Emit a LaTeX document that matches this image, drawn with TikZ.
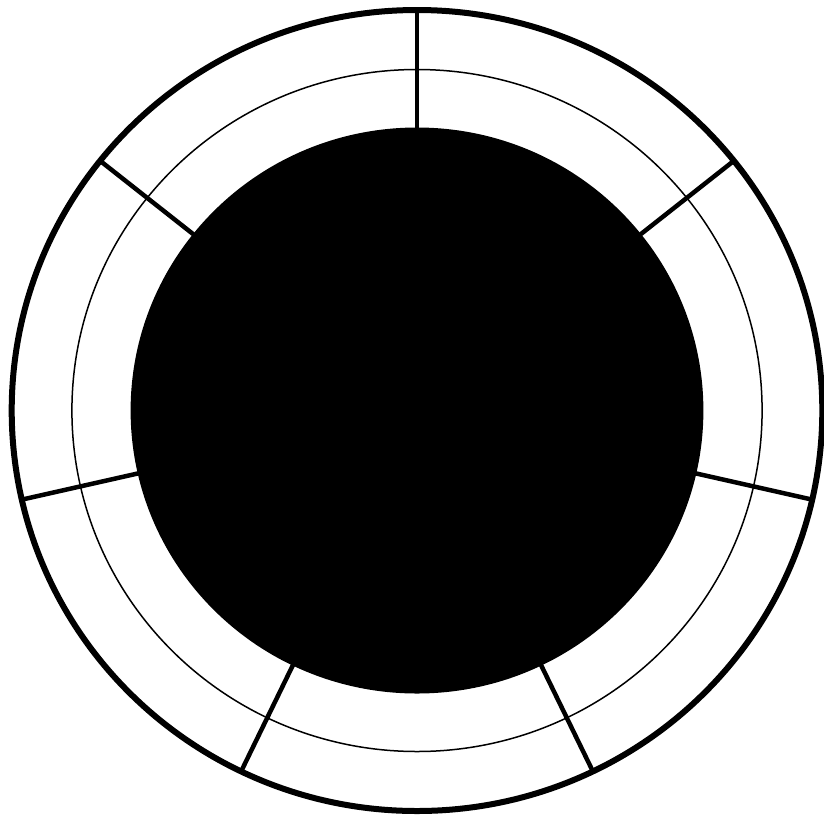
\documentclass[tikz,border=0pt]{standalone}
\begin{document}
\begin{tikzpicture}[x=1pt,y=-1pt,
  outerring/.style={line width=6pt},
  innerring/.style={line width=1.5pt},
  spoke/.style={line width=4.5pt}]
\useasboundingbox (0,0) rectangle (824,820);
\begin{scope}[shift={(417,410.5)},xscale=1.012]
  \fill (0,0) circle[radius=283];
  \draw[innerring] (0,0) circle[radius=341];
  \draw[outerring] (0,0) circle[radius=400.5];
  \foreach \k in {0,...,6}{
    \draw[spoke] ({90-\k*360/7}:-282) -- ({90-\k*360/7}:-401);
  }
\end{scope}
\end{tikzpicture}
\end{document}
